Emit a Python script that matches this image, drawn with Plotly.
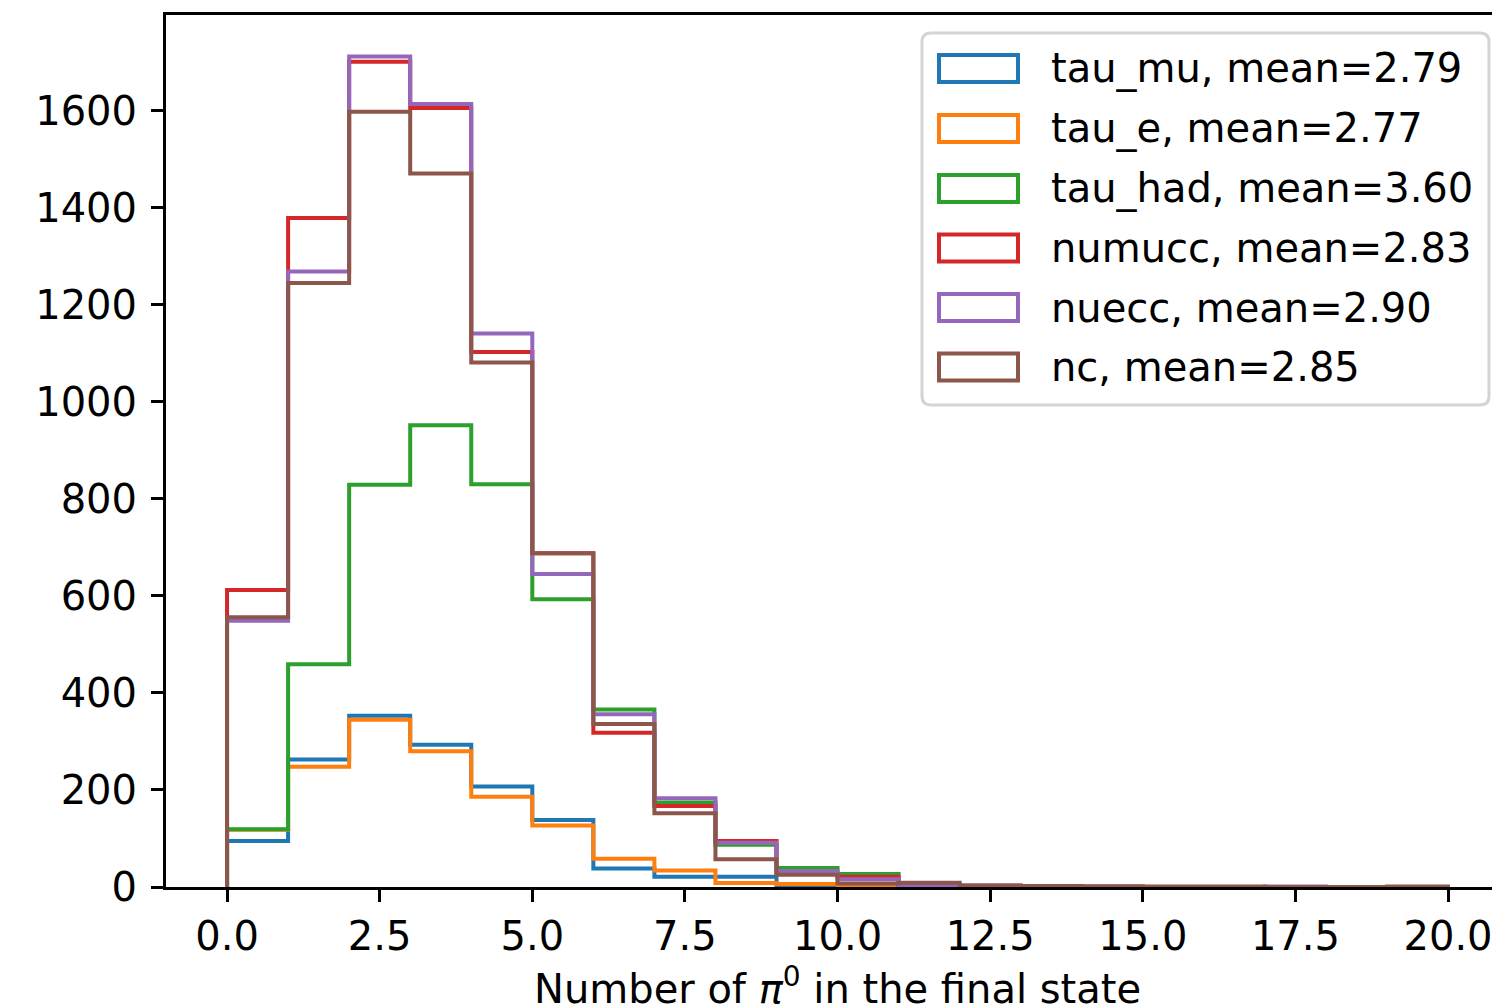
import plotly.graph_objects as go

# ---- data (bin edges 0..20, 20 bins of width 1) ----
bin_edges = list(range(0, 21))

tau_mu = [95, 263, 353, 293, 207, 138, 38, 21, 21, 3, 1, 1, 0, 0, 0, 0, 0, 0, 0, 0]
tau_e = [118, 248, 345, 280, 186, 127, 58, 34, 8, 6, 2, 1, 0, 0, 0, 0, 0, 0, 0, 0]
tau_had = [119, 459, 829, 952, 830, 593, 366, 174, 87, 39, 27, 5, 2, 1, 0, 0, 0, 0, 0, 0]
numucc = [612, 1379, 1701, 1606, 1103, 688, 318, 167, 95, 28, 21, 4, 2, 1, 1, 0, 0, 0, 0, 0]
nuecc = [549, 1269, 1712, 1614, 1141, 645, 356, 183, 91, 33, 16, 4, 3, 1, 1, 0, 0, 1, 0, 0]
nc = [556, 1245, 1598, 1471, 1081, 688, 336, 152, 57, 25, 7, 9, 3, 2, 1, 1, 1, 0, 0, 1]

series_names = ["tau_mu", "tau_e", "tau_had", "numucc", "nuecc", "nc"]
series_means = [2.79, 2.77, 3.60, 2.83, 2.90, 2.85]
series_values = [tau_mu, tau_e, tau_had, numucc, nuecc, nc]
colors = ["#1f77b4", "#ff7f0e", "#2ca02c", "#d62728", "#9467bd", "#8c564b"]

x_ticks = [0, 2.5, 5, 7.5, 10, 12.5, 15, 17.5, 20]
y_ticks = [0, 200, 400, 600, 800, 1000, 1200, 1400, 1600]
x_title = "Number of <i>π</i><sup>0</sup> in the final state"

FONT = "DejaVu Sans"
W, H = 1492, 1006
L, R, T, B = 166, 0, 15, 119
LW = 4

fig = go.Figure()

for name, mean, vals, col in zip(series_names, series_means, series_values, colors):
    xs = [bin_edges[0]] + bin_edges[:-1] + [bin_edges[-1], bin_edges[-1]]
    ys = [0] + vals + [vals[-1], 0]
    fig.add_trace(go.Scatter(
        x=xs, y=ys, mode="lines", line=dict(color=col, width=LW, shape="hv"),
        name=f"{name}, mean={mean:.2f}", showlegend=False, hoverinfo="skip"))

# ---- custom matplotlib-like legend ----
pw = W - L - R
ph = H - T - B


def px2paper_x(px):
    return (px - L) / pw


def px2paper_y(py):
    return (H - B - py) / ph


shapes = []
x0, x1, y0, y1, r = 922, 1489, 33, 405, 9
rx = r / pw
ry = r / ph
X0, X1 = px2paper_x(x0), px2paper_x(x1)
Ytop, Ybot = px2paper_y(y0), px2paper_y(y1)
path = (f"M {X0+rx},{Ytop} L {X1-rx},{Ytop} Q {X1},{Ytop} {X1},{Ytop-ry} "
        f"L {X1},{Ybot+ry} Q {X1},{Ybot} {X1-rx},{Ybot} "
        f"L {X0+rx},{Ybot} Q {X0},{Ybot} {X0},{Ybot+ry} "
        f"L {X0},{Ytop-ry} Q {X0},{Ytop} {X0+rx},{Ytop} Z")
shapes.append(dict(type="path", path=path, xref="paper", yref="paper",
                   line=dict(color="#d4d4d4", width=3), fillcolor="rgba(255,255,255,0.8)",
                   layer="above"))

annotations = []
centers = [68.5, 128.5, 188.5, 248, 307.5, 367]
for (name, mean, col, cy) in zip(series_names, series_means, colors, centers):
    shapes.append(dict(type="rect", xref="paper", yref="paper",
                       x0=px2paper_x(939), x1=px2paper_x(1018),
                       y0=px2paper_y(cy - 13.5), y1=px2paper_y(cy + 13.5),
                       line=dict(color=col, width=LW), fillcolor="rgba(0,0,0,0)",
                       layer="above"))
    annotations.append(dict(text=f"{name}, mean={mean:.2f}", xref="paper", yref="paper",
                            x=px2paper_x(1049), y=px2paper_y(cy), xanchor="left",
                            yanchor="middle", showarrow=False,
                            font=dict(family=FONT, size=40, color="black")))

# x-axis title, centred on the full (partly cropped) axes width as in the reference
annotations.append(dict(text=x_title, xref="paper", yref="paper",
                        x=px2paper_x(837.5), y=px2paper_y(986), xanchor="center",
                        yanchor="middle", showarrow=False,
                        font=dict(family=FONT, size=40, color="black")))

fig.update_layout(
    width=W, height=H,
    margin=dict(l=L, r=R, t=T, b=B, pad=0),
    paper_bgcolor="white", plot_bgcolor="white",
    font=dict(family=FONT, size=40, color="black"),
    shapes=shapes, annotations=annotations,
    showlegend=False,
)

fig.update_xaxes(
    range=[-1.0, 20.72], tickmode="array", tickvals=x_ticks,
    ticktext=[f"{v:.1f}" for v in x_ticks],
    showgrid=False, zeroline=False,
    showline=True, linecolor="black", linewidth=3, mirror=True,
    ticks="outside", ticklen=12, tickwidth=3, tickcolor="black",
    ticklabelstandoff=0, ticklabeloverflow="allow",
)
fig.update_yaxes(
    range=[0, 1797.6], tickmode="array", tickvals=y_ticks,
    ticktext=[str(v) for v in y_ticks],
    showgrid=False, zeroline=False,
    showline=True, linecolor="black", linewidth=3, mirror=False,
    ticks="outside", ticklen=12, tickwidth=3, tickcolor="black",
    ticklabelstandoff=6,
)

fig.write_html("out.html")
